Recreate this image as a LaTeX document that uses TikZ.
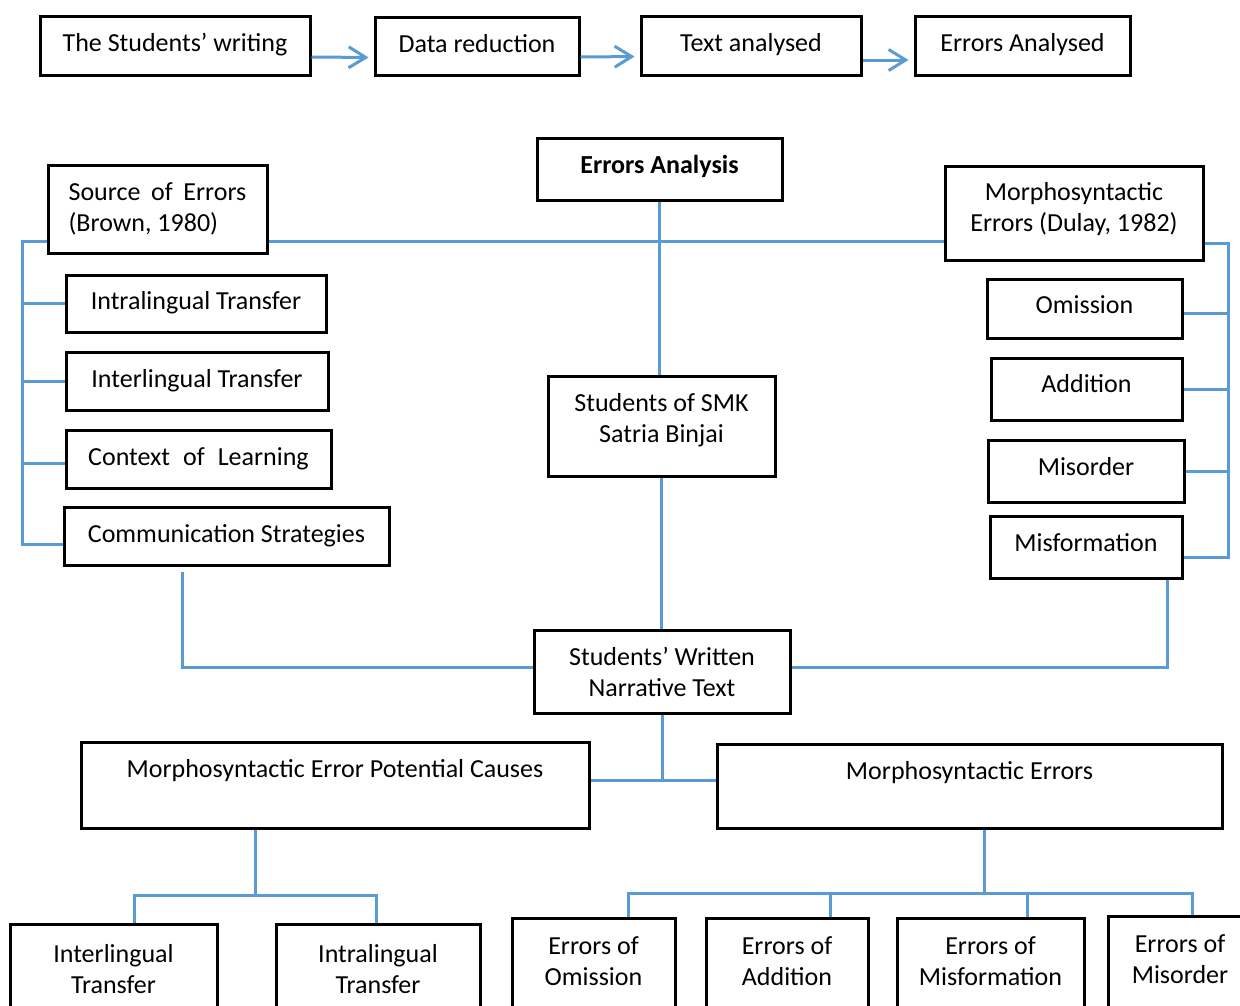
\documentclass[tikz,border=0pt]{standalone}
\usepackage{fontspec}
\setmainfont{Carlito}
\usetikzlibrary{arrows.meta}
\definecolor{lineblue}{RGB}{91,155,213}
\newcommand\dfont{\fontsize{26pt}{31pt}\selectfont}
\newcommand\lowstrut[1]{\rule[-#1]{0pt}{#1}}
\begin{document}
\begin{tikzpicture}[x=1pt,y=-1pt,
  box/.style 2 args={draw=black, fill=white, line width=3pt, minimum width=#1, minimum height=#2, inner sep=2pt, font=\dfont},
  one/.style={text height=18pt, text depth=#1},
  one/.default=6pt,
  conn/.style={draw=lineblue, line width=3pt},
  arr/.style={conn, -{Straight Barb[length=17pt,width=21pt]}, shorten >=5pt}
]
\useasboundingbox (0,0) rectangle (1240,1005);
\fill[white] (0,0) rectangle (1240,1005);
\clip (0,0) rectangle (1240,1005);

% top row
\node[box={270}{59}, one] (b1) at (175,45.5) {The Students’ writing};
\node[box={204}{58}, one] (b2) at (477,46) {Data reduction};
\node[box={220}{59}, one] (b3) at (751,45.5) {Text analysed};
\node[box={215}{59}, one] (b4) at (1022.5,45.5) {Errors Analysed};
\draw[arr] ([yshift=-11.5pt]b1.east) -- ([yshift=-11.5pt]b2.west);
\draw[arr] ([yshift=-11pt]b2.east) -- ([yshift=-11pt]b3.west);
\draw[arr] ([yshift=-14.5pt]b3.east) -- ([yshift=-14.5pt]b4.west);

% middle
\node[box={245}{62}, one=9pt, font={\dfont\bfseries}] (ea) at (659.5,169) {Errors Analysis};
\node[box={219}{88}, align=left] (src) at (157.5,209) {Source\hspace{0.41em}of\hspace{0.41em}Errors\\(Brown, 1980)};
\node[box={258}{94}, align=center] (dul) at (1074,213) {Morphosyntactic\\Errors (Dulay, 1982)\lowstrut{12.5pt}};

\node[box={260}{57}, one] (intra) at (196,303.5) {Intralingual Transfer};
\node[box={262}{58}, one] (inter) at (197,381) {Interlingual Transfer};
\node[box={265}{58}, one] (ctx) at (198.5,459) {Context\hspace{0.5em}of\hspace{0.5em}Learning};
\node[box={325}{58}, one] (comm) at (226.5,536) {Communication Strategies};

\node[box={195}{59}, one=8pt] (om) at (1084.5,308.5) {Omission};
\node[box={191}{62}, one=11pt] (ad) at (1086.5,389) {Addition};
\node[box={196}{62}, one=9pt] (mo) at (1086,471) {Misorder};
\node[box={192}{62}, one=9pt] (mf) at (1086,547) {Misformation};

\node[box={227}{100}, align=center] (smk) at (661.5,426) {Students of SMK\\Satria Binjai\lowstrut{15.5pt}};
\node[box={256}{83}, align=center] (swn) at (662,671.5) {Students’ Written\\Narrative Text};

\node[box={508}{86}, one=33pt] (mepc) at (335,785) {Morphosyntactic Error Potential Causes};
\node[box={505}{84}, one=31pt] (me) at (969.5,786) {Morphosyntactic Errors};

% bottom
\node[box={207}{90}, align=center] (ilt) at (113.5,969) {Interlingual\\Transfer};
\node[box={204}{90}, align=center] (itt) at (378,969) {Intralingual\\Transfer};
\node[box={163}{94}, align=center] (eom) at (593.5,965) {Errors of\\Omission\lowstrut{8pt}};
\node[box={162}{94}, align=center] (ead) at (787,965) {Errors of\\Addition\lowstrut{8pt}};
\node[box={187}{94}, align=center] (emf) at (990.5,965) {Errors of\\Misformation\lowstrut{8pt}};
\node[box={144}{94}, align=center] (emo) at (1180,963) {Errors of\\Misorder\lowstrut{8pt}};

% connectors
\coordinate (hub) at (660,241);
\draw[conn] (src.east |- hub) -- (dul.west |- hub);
\draw[conn] (ea.south) -- (ea.south |- smk.north);

\coordinate (lb) at (22,241);
\coordinate (lbe) at ([yshift=-8pt]comm.west);
\draw[conn] (src.west |- hub) -- (lb) -- (lb |- lbe) -- (lbe);
\draw[conn] (lb |- intra.west) -- (intra.west);
\draw[conn] (lb |- inter.west) -- (inter.west);
\coordinate (ctxw) at ([yshift=-4pt]ctx.west);
\draw[conn] (lb |- ctxw) -- (ctxw);

\coordinate (rb) at (1228,243);
\coordinate (rbe) at ([yshift=-10pt]mf.east);
\draw[conn] (dul.east |- rb) -- (rb) -- (rb |- rbe) -- (rbe);
\coordinate (ome) at ([yshift=-4.5pt]om.east);
\draw[conn] (ome) -- (rb |- ome);
\draw[conn] (ad.east) -- (rb |- ad.east);
\draw[conn] (mo.east) -- (rb |- mo.east);

\coordinate (lc) at (182,667);
\draw[conn, shorten <=5pt] (lc |- comm.south) -- (lc) -- (lc -| swn.west);
\coordinate (rc) at (1167,667);
\draw[conn] (swn.east |- rc) -- (rc) -- (rc |- mf.south);

\draw[conn] (smk.south) -- (smk.south |- swn.north);

\coordinate (j2) at (661,780);
\draw[conn] (swn.south) -- (swn.south |- j2);
\draw[conn] (mepc.east |- j2) -- (me.west |- j2);

\coordinate (j3) at (255,895);
\draw[conn] (j3 |- mepc.south) -- (j3);
\draw[conn] ([xshift=20.5pt]ilt.north) |- ([xshift=-2pt]itt.north |- j3) -- ([xshift=-2pt]itt.north);

\coordinate (j4) at (984,893);
\draw[conn] (j4 |- me.south) -- (j4);
\draw[conn] ([xshift=34.5pt]eom.north) |- ([xshift=12pt]emo.north |- j4) -- ([xshift=12pt]emo.north);
\coordinate (eadn) at ([xshift=43pt]ead.north);
\draw[conn] (eadn) -- (eadn |- j4);
\coordinate (emfn) at ([xshift=36.5pt]emf.north);
\draw[conn] (emfn) -- (emfn |- j4);
\end{tikzpicture}
\end{document}
